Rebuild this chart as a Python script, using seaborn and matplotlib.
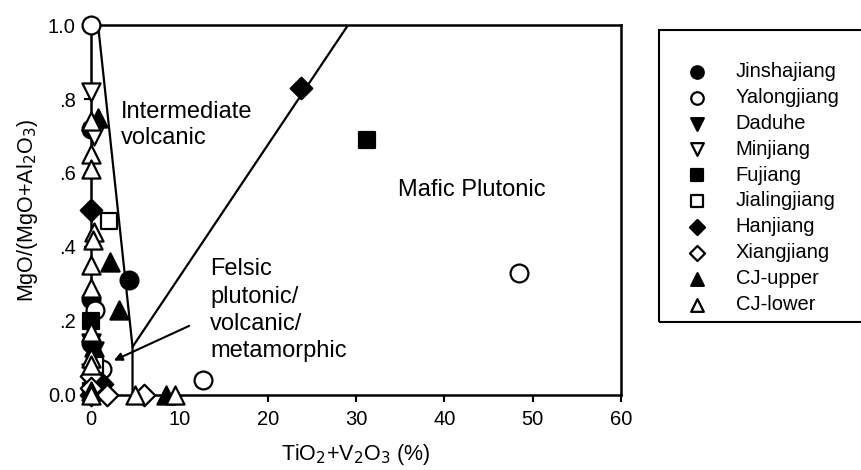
import pandas as pd
import matplotlib
matplotlib.use('Agg')
import matplotlib.pyplot as plt
from matplotlib.patches import Rectangle
import seaborn as sns

# sample values: TiO2+V2O3 (%) vs MgO/(MgO+Al2O3)
jinshajiang_x = [4.3, 0.0, 0.0, 0.0, 0.3]
jinshajiang_y = [0.31, 0.72, 0.26, 0.14, 0.02]
yalongjiang_x = [0.0, 48.4, 12.7, 0.5, 1.3, 0.2]
yalongjiang_y = [1.0, 0.33, 0.04, 0.23, 0.07, 0.01]
daduhe_x = [0.2, 0.0, 0.3, 0.0, 0.5]
daduhe_y = [0.71, 0.14, 0.12, 0.03, 0.0]
minjiang_x = [0.0, 0.3, 0.0, 0.5]
minjiang_y = [0.82, 0.70, 0.06, 0.02]
fujiang_x = [31.2, 0.0, 0.0]
fujiang_y = [0.69, 0.20, 0.01]
jialingjiang_x = [2.0, 0.5]
jialingjiang_y = [0.47, 0.08]
hanjiang_x = [23.8, 0.0, 1.2, 0.0]
hanjiang_y = [0.83, 0.50, 0.03, 0.0]
xiangjiang_x = [6.0, 1.8, 0.0, 0.0]
xiangjiang_y = [0.0, 0.0, 0.05, 0.02]
cj_upper_x = [0.8, 2.2, 3.2, 8.5, 0.3, 0.0]
cj_upper_y = [0.75, 0.36, 0.23, 0.0, 0.13, 0.01]
cj_lower_x = [0.0, 0.0, 0.0, 0.3, 0.2, 0.0, 0.0, 0.0, 0.0, 0.0, 0.0, 5.0, 9.5]
cj_lower_y = [0.74, 0.65, 0.61, 0.44, 0.42, 0.35, 0.29, 0.17, 0.10, 0.08, 0.0, 0.0, 0.0]

# field boundaries
steep_x = [0.8, 4.7, 4.7]
steep_y = [1.0, 0.13, 0.0]
diag_x = [4.7, 29.1]
diag_y = [0.13, 1.0]

x_ticks = [0, 10, 20, 30, 40, 50, 60]
y_ticks = [0.0, 0.2, 0.4, 0.6, 0.8, 1.0]
y_tick_labels = ['0.0', '.2', '.4', '.6', '.8', '1.0']

series = [
    ('Jinshajiang', jinshajiang_x, jinshajiang_y, 'o', True),
    ('Yalongjiang', yalongjiang_x, yalongjiang_y, 'o', False),
    ('Daduhe', daduhe_x, daduhe_y, 'v', True),
    ('Minjiang', minjiang_x, minjiang_y, 'v', False),
    ('Fujiang', fujiang_x, fujiang_y, 's', True),
    ('Jialingjiang', jialingjiang_x, jialingjiang_y, 's', False),
    ('Hanjiang', hanjiang_x, hanjiang_y, 'D', True),
    ('Xiangjiang', xiangjiang_x, xiangjiang_y, 'D', False),
    ('CJ-upper', cj_upper_x, cj_upper_y, '^', True),
    ('CJ-lower', cj_lower_x, cj_lower_y, '^', False),
]

rows = []
for name, xs, ys, m, filled in series:
    for a, b in zip(xs, ys):
        rows.append({'river': name, 'x': a, 'y': b})
data = pd.DataFrame(rows)

sns.set_style('ticks')
plt.rcParams['font.family'] = ['Liberation Sans', 'DejaVu Sans']
plt.rcParams['text.color'] = 'black'
plt.rcParams['axes.labelcolor'] = 'black'

fig, ax = plt.subplots(figsize=(8.61, 4.70), dpi=100)
fig.subplots_adjust(left=0.1057, right=0.7213, bottom=0.1596, top=0.9468)

ax.plot(steep_x, steep_y, color='black', lw=1.6, zorder=1)
ax.plot(diag_x, diag_y, color='black', lw=1.6, zorder=1)

sizes = {'o': 165, 'v': 170, 's': 140, 'D': 120, '^': 170}
for name, xs, ys, m, filled in series:
    sub = data[data['river'] == name]
    sns.scatterplot(data=sub, x='x', y='y', marker=m, s=sizes[m],
                    color='black' if filled else 'white', edgecolor='black',
                    linewidth=1.6, clip_on=False, zorder=3, label=name, ax=ax)

ax.set_xlim(0, 60)
ax.set_ylim(0, 1.0)
ax.set_xticks(x_ticks)
ax.set_yticks(y_ticks)
ax.set_yticklabels(y_tick_labels)
ax.tick_params(direction='out', length=5, width=1.5, labelsize=14.5, colors='black', pad=6)
for sp in ax.spines.values():
    sp.set_visible(True)
    sp.set_linewidth(1.8)
    sp.set_color('black')

ax.set_xlabel('TiO$_2$+V$_2$O$_3$ (%)', fontsize=15.5, labelpad=9)
ax.set_ylabel('MgO/(MgO+Al$_2$O$_3$)', fontsize=15.5, labelpad=6)

ax.text(3.4, 0.73, 'Intermediate\nvolcanic', fontsize=17, ha='left', va='center', linespacing=1.25)
ax.text(34.75, 0.554, 'Mafic Plutonic', fontsize=17, ha='left', va='center')
ax.text(13.5, 0.229, 'Felsic\nplutonic/\nvolcanic/\nmetamorphic', fontsize=17,
        ha='left', va='center', linespacing=1.32)
ax.annotate('', xy=(2.3, 0.09), xytext=(11.4, 0.19),
            arrowprops=dict(arrowstyle='-|>', color='black', lw=1.5, mutation_scale=12))

# legend entries placed in a box that runs off the right edge, as in the original
ax.legend(loc='upper left', bbox_to_anchor=(659 / 861, 0, 0.4, 1 - 30 / 470),
          bbox_transform=fig.transFigure, mode='expand', fontsize=14.5,
          frameon=False, markerscale=0.7,
          borderpad=1.6, handlelength=0.6, handletextpad=1.6, labelspacing=0.34,
          borderaxespad=0)
fig.patches.append(Rectangle((659 / 861, 1 - 322 / 470), 0.3, 292 / 470,
                             transform=fig.transFigure, fill=False,
                             edgecolor='black', lw=1.5))

fig.savefig('out.png', dpi=100)
